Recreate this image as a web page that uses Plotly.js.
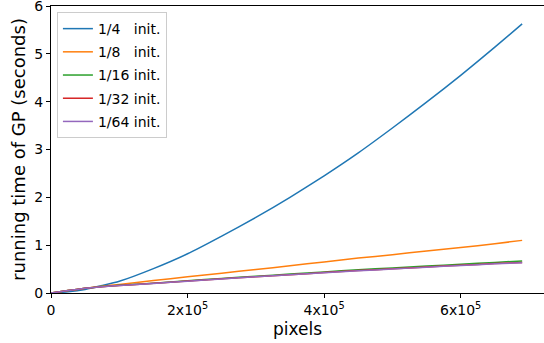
<!DOCTYPE html>
<html>
<head>
<meta charset="utf-8">
<script src="https://cdn.plot.ly/plotly-3.0.1.min.js"></script>
<style>html,body{margin:0;padding:0;background:#fff}#chart{width:544px;height:343px}</style>
</head>
<body>
<div id="chart"></div>
<script>
// image size in pixels
const pixels = [0, 25000, 50000, 75000, 100000, 150000, 200000, 250000, 300000, 350000, 400000, 450000, 500000, 550000, 600000, 650000, 690000];
// running time of GP (seconds)
const init_1_4  = [0, 0.025, 0.075, 0.155, 0.245, 0.51, 0.82, 1.19, 1.58, 2.00, 2.45, 2.93, 3.45, 3.99, 4.55, 5.14, 5.625];
const init_1_8  = [0, 0.05, 0.097, 0.14, 0.18, 0.26, 0.34, 0.415, 0.49, 0.57, 0.65, 0.73, 0.80, 0.88, 0.95, 1.03, 1.10];
const init_1_16 = [0, 0.05, 0.097, 0.135, 0.16, 0.205, 0.255, 0.305, 0.35, 0.395, 0.44, 0.485, 0.525, 0.565, 0.60, 0.64, 0.67];
const init_1_32 = [0, 0.05, 0.097, 0.133, 0.158, 0.202, 0.25, 0.297, 0.342, 0.383, 0.427, 0.468, 0.505, 0.545, 0.58, 0.615, 0.64];
const init_1_64 = [0, 0.05, 0.097, 0.133, 0.157, 0.2, 0.248, 0.295, 0.34, 0.38, 0.425, 0.465, 0.50, 0.54, 0.575, 0.61, 0.635];

const seriesNames = ["1/4\u00a0\u00a0\u00a0init.", "1/8\u00a0\u00a0\u00a0init.", "1/16 init.", "1/32 init.", "1/64 init."];
const seriesValues = [init_1_4, init_1_8, init_1_16, init_1_32, init_1_64];
const colors = ["#1f77b4", "#ff7f0e", "#2ca02c", "#d62728", "#9467bd"];

const xTickVals = [0, 200000, 400000, 600000];
const xTickText = ["0", "2x10<sup>5</sup>", "4x10<sup>5</sup>", "6x10<sup>5</sup>"];
const yTickVals = [0, 1, 2, 3, 4, 5, 6];

const traces = seriesValues.map((v, i) => ({
  x: pixels, y: v, type: "scatter", mode: "lines", name: seriesNames[i], legendgroup: "g" + i,
  line: {color: colors[i], width: 1.5, shape: "spline", smoothing: 0.5}
}));

const font = "DejaVu Sans, sans-serif";
const layout = {
  width: 544, height: 343,
  margin: {l: 51, r: 0, t: 6, b: 50},
  paper_bgcolor: "#fff", plot_bgcolor: "#fff",
  font: {family: font, color: "#000", size: 14},
  showlegend: true,
  legend: {x: 0.012, y: 0.979, xanchor: "left", yanchor: "top", tracegroupgap: 2,
    bgcolor: "rgba(255,255,255,0.8)", bordercolor: "#cccccc", borderwidth: 1,
    font: {family: font, size: 14, color: "#000"}},
  xaxis: {range: [0, 722000], tickvals: xTickVals, ticktext: xTickText,
    showgrid: false, zeroline: false, showline: true, mirror: true, linecolor: "#000", linewidth: 1,
    ticks: "outside", ticklen: 4, tickcolor: "#000", tickfont: {size: 14}, ticklabeloverflow: "allow"},
  yaxis: {range: [0, 6], tickvals: yTickVals,
    showgrid: false, zeroline: false, showline: true, mirror: true, linecolor: "#000", linewidth: 1,
    ticks: "outside", ticklen: 4, tickcolor: "#000", tickfont: {size: 14}, ticklabeloverflow: "allow",
    title: {text: "running time of GP (seconds)", font: {size: 18}, standoff: 3}},
  annotations: [{text: "pixels", xref: "paper", yref: "paper",
    x: 0.501, y: -0.126, xanchor: "center", yanchor: "middle",
    showarrow: false, font: {size: 17, family: font, color: "#000"}}]
};
Plotly.newPlot("chart", traces, layout, {displayModeBar: false, staticPlot: true});
</script>
</body>
</html>
